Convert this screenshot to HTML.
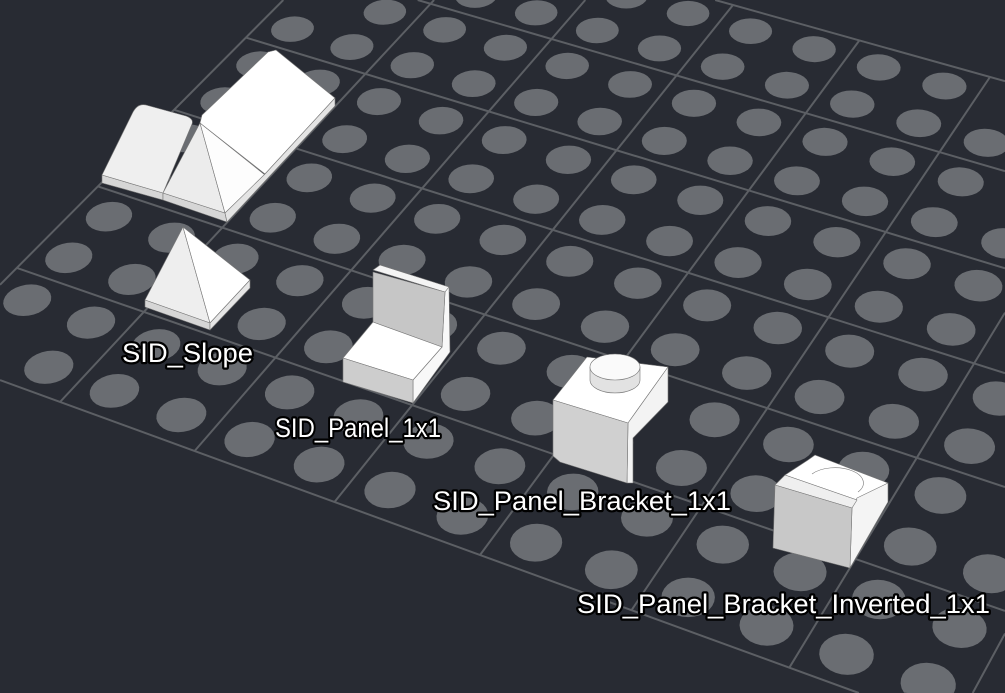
<!DOCTYPE html>
<html><head><meta charset="utf-8"><style>
html,body{margin:0;padding:0;background:#282b33;width:1005px;height:693px;overflow:hidden;}
svg{display:block}
text{font-family:"Liberation Sans",Arial,sans-serif;font-size:27px;fill:#fff;stroke:#000;stroke-width:4.5px;paint-order:stroke;stroke-linejoin:round}
</style></head><body>
<svg id="s" width="1005" height="693" viewBox="0 0 1005 693" xmlns="http://www.w3.org/2000/svg">
<rect width="1005" height="693" fill="#282b33"/>
<g id="dots" fill="#6a6d72"></g>
<g id="grid" stroke="#5c5f64" stroke-width="2" fill="none"></g>
<g stroke="#777" stroke-width="0.6" stroke-linejoin="round">
<polygon points="102,175 102,183 163,200 163,193" fill="#d6d6d6"/>
<path d="M102,175 L133,112 Q138,103 146,105 L186,116 Q194,119 192,124 L163,193 Z" fill="#efefef"/>
<polygon points="163,193 163,200 227,222 225,213" fill="#d6d6d6"/>
<polygon points="200,123 163,193 225,213" fill="#ececec"/>
<polygon points="200,123 225,213 265,175" fill="#fdfdfd"/>
<polygon points="202,115 268,52 276,50 335,98 265,174 200,123" fill="#ffffff"/>
<polygon points="335,98 335,106 227,222 225,213 265,174" fill="#e4e4e4"/>
<polygon points="183,227 145,300 210,323" fill="#eeeeee"/>
<polygon points="183,227 210,323 250,280" fill="#ffffff"/>
<polygon points="145,300 145,307 210,330 210,323" fill="#d6d6d6"/>
<polygon points="210,323 210,330 250,288 250,280" fill="#e6e6e6"/>
<polygon points="373,270 380,265 449,287 445,292" fill="#f4f4f4"/>
<polygon points="445,292 449,287 450,352 413,403 413,380 442,347" fill="#f8f8f8"/>
<polygon points="373,272 445,292 442,347 373,322" fill="#c6c6c6"/>
<polygon points="373,322 442,347 413,380 343,358" fill="#ffffff"/>
<polygon points="343,358 413,380 413,403 343,382" fill="#cdcdcd"/>
<polygon points="553,400 587,357 668,367 628,423" fill="#ffffff"/>
<polygon points="628,423 668,367 668,402 633,438 633,483 627,483" fill="#f3f3f3"/>
<polygon points="553,400 628,423 627,483 560,462 553,456" fill="#d0d0d0"/>
<path d="M590,367 L590,380 A25,13 0 0 0 640,380 L640,367 Z" fill="#e2e2e2"/>
<ellipse cx="615" cy="367" rx="25" ry="13" fill="#fafafa"/>
<polygon points="808,460 815,455 888,483 857,500 785,475" fill="#ffffff"/>
<path d="M812,474 A26,14 0 0 1 858,492" fill="none"/>
<polygon points="852,508 857,498 888,483 888,502 850,568" fill="#f4f4f4"/>
<polygon points="775,485 785,475 857,500 852,508" fill="#efefef"/>
<polygon points="775,485 852,508 850,568 773,548" fill="#c8c8c8"/>
</g>
<text x="122" y="362" textLength="131" lengthAdjust="spacingAndGlyphs">SID_Slope</text>
<text x="275" y="437" textLength="166" lengthAdjust="spacingAndGlyphs">SID_Panel_1x1</text>
<text x="433" y="510" textLength="298" lengthAdjust="spacingAndGlyphs">SID_Panel_Bracket_1x1</text>
<text x="577" y="613" textLength="413" lengthAdjust="spacingAndGlyphs">SID_Panel_Bracket_Inverted_1x1</text>
</svg>
<script>
(function(){
var src=[[0,0],[2,0],[-2,6],[1,6]], dst=[[733,5],[990,77],[60,402],[480,555]];
var A=[],b=[];
for(var i=0;i<4;i++){var u=src[i][0],v=src[i][1],x=dst[i][0],y=dst[i][1];
A.push([u,v,1,0,0,0,-u*x,-v*x]);b.push(x);
A.push([0,0,0,u,v,1,-u*y,-v*y]);b.push(y);}
var n=8;for(var c=0;c<n;c++){var p=c;for(var r=c+1;r<n;r++)if(Math.abs(A[r][c])>Math.abs(A[p][c]))p=r;
var t=A[c];A[c]=A[p];A[p]=t;t=b[c];b[c]=b[p];b[p]=t;
for(var r=0;r<n;r++){if(r==c)continue;var f=A[r][c]/A[c][c];for(var k=c;k<n;k++)A[r][k]-=f*A[c][k];b[r]-=f*b[c];}}
var h=[];for(var i=0;i<n;i++)h.push(b[i]/A[i][i]);
function P(u,v){var w=h[6]*u+h[7]*v+1;return [(h[0]*u+h[1]*v+h[2])/w,(h[3]*u+h[4]*v+h[5])/w];}
var NS="http://www.w3.org/2000/svg";
var g=document.getElementById("grid"),d=document.getElementById("dots");
var U0=-3,U1=9,V0=0,V1=6,W=1005,H=693;
function clip(a,c){var x0=a[0],y0=a[1],dx=c[0]-x0,dy=c[1]-y0,t0=0,t1=1;
 var pp=[-dx,dx,-dy,dy],qq=[x0,W-x0,y0,H-y0];
 for(var i=0;i<4;i++){if(pp[i]==0){if(qq[i]<0)return null;}else{var r=qq[i]/pp[i];if(pp[i]<0){if(r>t1)return null;if(r>t0)t0=r;}else{if(r<t0)return null;if(r<t1)t1=r;}}}
 return [[x0+t0*dx,y0+t0*dy],[x0+t1*dx,y0+t1*dy]];}
function line(a,c){var s=clip(a,c);if(!s)return;var l=document.createElementNS(NS,"line");l.setAttribute("x1",s[0][0].toFixed(1));l.setAttribute("y1",s[0][1].toFixed(1));l.setAttribute("x2",s[1][0].toFixed(1));l.setAttribute("y2",s[1][1].toFixed(1));g.appendChild(l);}
for(var u=U0;u<=U1;u++)line(P(u,V0),P(u,V1));
for(var v=V0;v<=V1;v++)line(P(U0,v),P(U1,v));
for(var u=U0;u<U1;u++)for(var v=V0;v<V1;v++){
 [[.25,.25],[.75,.25],[.25,.75],[.75,.75]].forEach(function(o){
  var cu=u+o[0],cv=v+o[1],cc=P(cu,cv);
  if(cc[0]<-5||cc[0]>W+5||cc[1]<-5||cc[1]>H+5)return;
  var pts=[];
  for(var k=0;k<28;k++){var a=k/28*Math.PI*2;var q=P(cu+0.155*Math.cos(a),cv+0.165*Math.sin(a));pts.push(Math.max(-2,Math.min(W+2,q[0])).toFixed(1)+","+Math.max(-2,Math.min(H,q[1])).toFixed(1));}
  var pg=document.createElementNS(NS,"polygon");pg.setAttribute("points",pts.join(" "));d.appendChild(pg);
 });}
})();
</script>
</body></html>
